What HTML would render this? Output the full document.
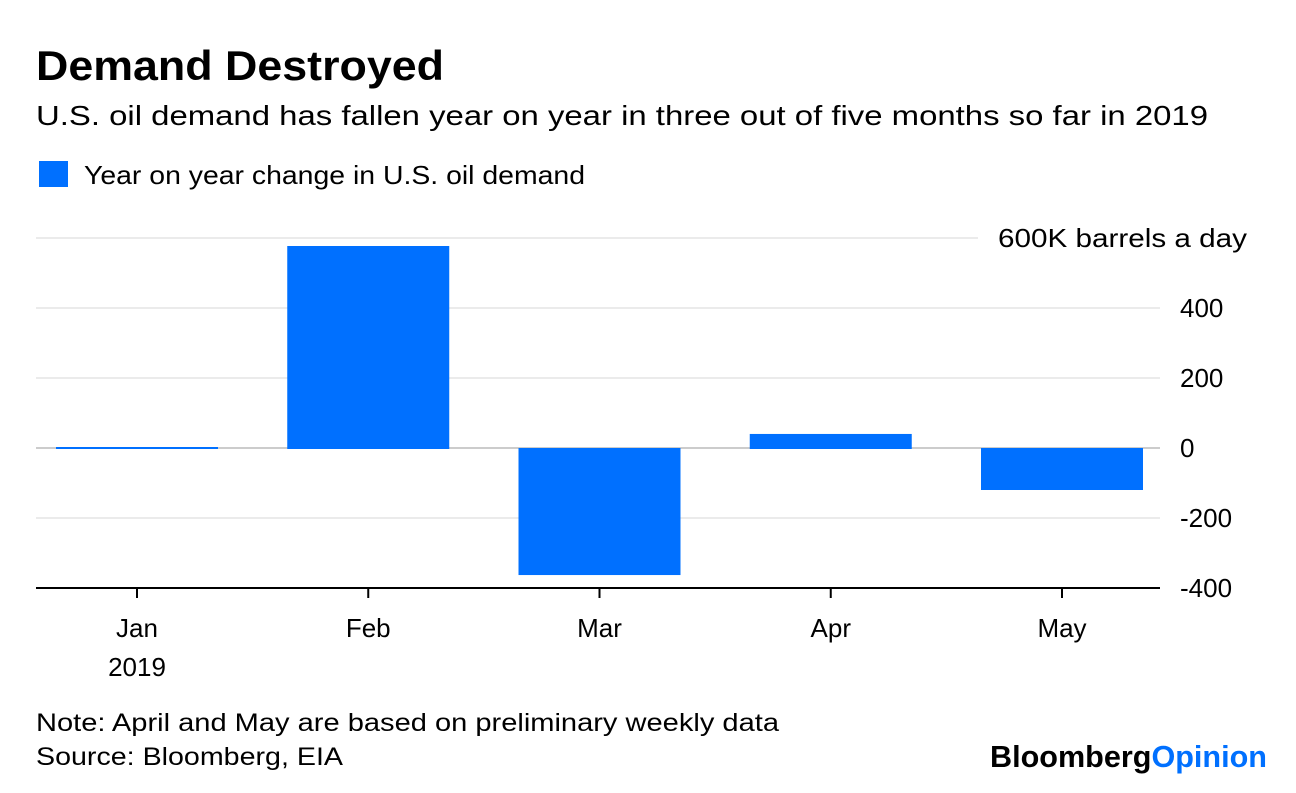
<!DOCTYPE html>
<html><head><meta charset="utf-8"><style>
body{margin:0;background:#fff;width:1296px;height:788px;overflow:hidden;font-family:"Liberation Sans",sans-serif;}
</style></head><body>
<svg width="1296" height="788" xmlns="http://www.w3.org/2000/svg" style="font-family:'Liberation Sans',sans-serif">
<text x="36" y="80" font-size="42" font-weight="bold" fill="#000" textLength="408" lengthAdjust="spacingAndGlyphs">Demand Destroyed</text>
<text x="36" y="125" font-size="28" fill="#000" textLength="1172" lengthAdjust="spacingAndGlyphs">U.S. oil demand has fallen year on year in three out of five months so far in 2019</text>
<rect x="39" y="161" width="29" height="26" fill="#0070ff"/>
<text x="84" y="184" font-size="26" fill="#000" textLength="501" lengthAdjust="spacingAndGlyphs">Year on year change in U.S. oil demand</text>
<g id="grid"></g>
<g id="bars"></g>
<g id="axis"></g>
<text x="36" y="731" font-size="25" fill="#000" textLength="743" lengthAdjust="spacingAndGlyphs">Note: April and May are based on preliminary weekly data</text>
<text x="36" y="765" font-size="25" fill="#000" textLength="307" lengthAdjust="spacingAndGlyphs">Source: Bloomberg, EIA</text>
<text x="990" y="767" font-size="31" font-weight="bold" textLength="277" lengthAdjust="spacingAndGlyphs"><tspan fill="#000">Bloomberg</tspan><tspan fill="#0070ff">Opinion</tspan></text>
</svg>
<script>
const categories=["Jan","Feb","Mar","Apr","May"];
const values=[3,580,-363,43,-120];
const yTicks=[600,400,200,0,-200,-400];
const yTickLabels=["600K barrels a day","400","200","0","-200","-400"];
const NS="http://www.w3.org/2000/svg";
const y0=448, pxPer=0.35;
function y(v){return y0-v*pxPer;}
const left=36,right=1160,step=231.25,first=137,barW=162;
function x(i){return first+i*step;}
function mk(tag,attrs,parent){const e=document.createElementNS(NS,tag);for(const k in attrs)e.setAttribute(k,attrs[k]);parent.appendChild(e);return e;}
const grid=document.getElementById('grid'),bars=document.getElementById('bars'),axis=document.getElementById('axis');
yTicks.forEach((t,i)=>{
  const yy=y(t);
  if(t!==-400){
    const l=mk('line',{x1:left,x2:i===0?978:right,y1:yy,y2:yy,stroke:t===0?'#ccc':'#ebebeb','stroke-width':2},grid);
    
    
  }
  const attrs={x:i===0?998:1180,y:yy+9,'font-size':26,fill:'#000'};
  if(i===0){attrs.textLength=249;attrs.lengthAdjust='spacingAndGlyphs';}
  const tx=mk('text',attrs,grid);
  tx.textContent=yTickLabels[i];
  
  
});
values.forEach((v,i)=>{
  const h=Math.max(Math.abs(y(v)-y0),2);
  const r=mk('rect',{x:x(i)-barW/2,y:v>=0?y0-h+1:y0,width:barW,height:h,fill:'#0070ff'},bars);
  
  
});
const al=mk('line',{x1:left,x2:right,y1:588,y2:588,stroke:'#000','stroke-width':2},axis);


categories.forEach((c,i)=>{
  const tk=mk('line',{x1:x(i),x2:x(i),y1:588,y2:598,stroke:'#000','stroke-width':2},axis);
  
  
  const t=mk('text',{x:x(i),y:637,'font-size':26,'text-anchor':'middle',fill:'#000'},axis);
  t.textContent=c;
  
  
});
const yr=mk('text',{x:x(0),y:676,'font-size':26,'text-anchor':'middle',fill:'#000'},axis);
yr.textContent="2019";


</script>
</body></html>
